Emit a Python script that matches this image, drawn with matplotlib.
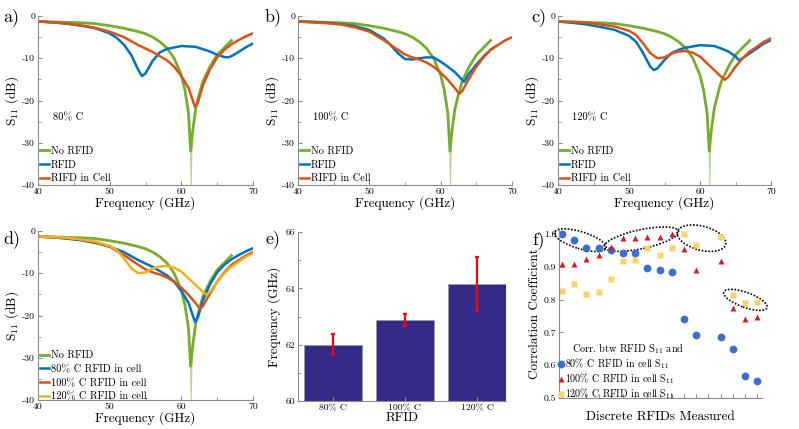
import matplotlib
matplotlib.use('Agg')
import matplotlib.pyplot as plt
from matplotlib.patches import Ellipse
from matplotlib.transforms import ScaledTranslation
from matplotlib.ticker import MultipleLocator
import numpy as np

plt.rcParams['font.family'] = 'cmr10'
plt.rcParams['mathtext.fontset'] = 'cm'
plt.rcParams['axes.unicode_minus'] = False

# --- S11 curves (GHz, dB) ---
freq_none = [40, 42, 44, 46, 48, 50, 52, 54, 55, 56, 57, 58, 59, 60, 60.5, 61.0, 61.3,
             61.6, 62, 62.5, 63, 64, 65, 66, 67]
s11_none = [-1.3, -1.4, -1.5, -1.6, -1.8, -2.3, -2.9, -3.7, -4.2, -5.0, -6.1, -7.6, -10.0,
            -14.0, -17.5, -23.0, -32.0, -27.0, -22.0, -18.5, -15.5, -12.0, -9.2, -7.5, -5.8]
spike_freq = [61.25, 61.38, 61.5]
spike_s11 = [-30, -40, -30]

freq_rfid80 = [40, 42, 44, 46, 48, 50, 51, 52, 53, 54, 54.5, 55, 56, 57, 58, 60, 62, 64,
               65, 66, 66.5, 67, 68, 69, 70]
s11_rfid80 = [-1.3, -1.5, -1.8, -2.3, -2.9, -4.1, -5.2, -6.8, -9.2, -12.8, -14.2, -13.6,
              -10.6, -8.6, -7.8, -7.1, -7.3, -8.4, -9.2, -9.7, -9.8, -9.5, -8.5, -7.4, -6.5]

freq_cell80 = [40, 42, 44, 46, 48, 50, 52, 54, 55, 56, 57, 58, 59, 60, 61, 61.5, 61.9,
               62.3, 63, 64, 65, 66, 67, 68, 69, 70]
s11_cell80 = [-1.3, -1.5, -1.8, -2.2, -2.8, -3.7, -5.0, -6.9, -7.7, -8.5, -9.5, -10.5,
              -12.0, -14.2, -17.0, -19.5, -21.5, -20.5, -16.5, -12.6, -9.8, -8.0, -6.7,
              -5.7, -4.8, -4.1]

freq_rfid100 = [40, 42, 44, 46, 48, 50, 52, 53, 54, 55, 56, 57, 58, 59, 60, 61, 62, 63,
                63.3, 64, 65, 66, 67, 67.6]
s11_rfid100 = [-1.3, -1.4, -1.6, -1.9, -2.4, -3.3, -5.3, -6.9, -8.8, -10.2, -10.3, -10.0,
               -9.8, -9.8, -10.8, -12.0, -13.3, -15.1, -15.6, -13.6, -11.5, -9.6, -8.0, -7.3]

freq_cell100 = [40, 42, 44, 46, 48, 50, 52, 54, 55, 56, 57, 58, 59, 60, 61, 62, 62.6, 63,
                64, 65, 66, 67, 68, 69, 70]
s11_cell100 = [-1.3, -1.5, -1.7, -2.0, -2.7, -3.7, -5.7, -8.0, -9.1, -9.8, -10.3, -11.0,
               -12.0, -13.4, -15.1, -17.1, -18.4, -17.8, -14.8, -12.0, -9.8, -8.0, -6.9,
               -5.8, -5.0]

freq_rfid120 = [40, 42, 44, 46, 48, 50, 51, 52, 53, 53.5, 54, 55, 56, 57, 58, 60, 62, 63,
                64, 65, 65.5, 66, 67, 68, 69, 70]
s11_rfid120 = [-1.3, -1.6, -2.0, -2.6, -3.3, -4.7, -6.1, -8.8, -12.0, -12.8, -12.4, -10.4,
               -8.8, -8.0, -7.5, -6.9, -7.1, -7.7, -8.4, -9.6, -10.5, -10.0, -8.8, -7.7,
               -6.5, -5.7]

freq_cell120 = [40, 42, 44, 46, 48, 50, 51, 52, 53, 54, 55, 56, 57, 58, 59, 60, 61, 62,
                63, 63.5, 64, 65, 66, 67, 68, 69, 70]
s11_cell120 = [-1.3, -1.4, -1.6, -2.0, -2.5, -3.5, -4.5, -6.5, -8.8, -10.0, -9.8, -8.9,
               -8.4, -8.3, -8.7, -9.6, -11.2, -12.8, -14.4, -15.1, -14.4, -12.0, -10.0,
               -8.4, -7.3, -6.1, -5.3]

# --- panel e: resonant frequency ---
bar_labels = ['80% C', '100% C', '120% C']
bar_freq = [62.0, 62.88, 64.15]
err_lo = [61.62, 62.68, 63.18]
err_hi = [62.38, 63.10, 65.12]

# --- panel f: correlation coefficients ---
rfid_idx = [1, 2, 3, 4, 5, 6, 7, 8, 9, 10, 11, 12, 14, 15, 16, 17]
corr_80 = [1.0, 0.983, 0.956, 0.956, 0.950, 0.943, 0.943, 0.895, 0.890, 0.883,
           0.741, 0.692, 0.687, 0.650, 0.566, 0.551]
corr_100 = [0.909, 0.907, 0.924, 0.935, 0.961, 0.987, 0.987, 0.992, 0.992, 1.0,
            0.953, 0.890, 0.918, 0.774, 0.742, 0.747]
corr_120 = [0.825, 0.848, 0.817, 0.822, 0.864, 0.916, 0.920, 0.958, 0.935, 0.956,
            1.0, 0.965, 0.992, 0.815, 0.791, 0.792]

GREEN, BLUE, ORANGE, YELLOW = '#77AC30', '#0072BD', '#D95319', '#EDB120'
SPINE = '#8c8c8c'

W, H = 799, 429
fig = plt.figure(figsize=(W / 100, H / 100), dpi=100)


def box(l, t, r, b):
    return [l / W, 1 - b / H, (r - l) / W, (b - t) / H]


def style(ax):
    for s in ['top', 'right']:
        ax.spines[s].set_visible(False)
    for s in ['left', 'bottom']:
        ax.spines[s].set_color(SPINE)
        ax.spines[s].set_linewidth(0.8)
    ax.tick_params(which='both', direction='in', color=SPINE, labelsize=7, pad=2)
    ax.tick_params(which='major', length=3)
    ax.tick_params(which='minor', length=2)


def s11_axes(rect):
    ax = fig.add_axes(rect)
    style(ax)
    ax.set_xlim(40, 70)
    ax.set_ylim(-40, 0)
    ax.set_xticks([40, 50, 60, 70])
    ax.set_yticks([0, -10, -20, -30, -40])
    ax.xaxis.set_minor_locator(MultipleLocator(5))
    ax.yaxis.set_minor_locator(MultipleLocator(5))
    ax.set_xlabel('Frequency (GHz)', fontsize=9.5, labelpad=0)
    ax.set_ylabel('S$_{11}$ (dB)', fontsize=9.5, labelpad=1)
    return ax


def leg(ax, header=None, dy=0.0):
    if header:
        ax.text(0.068, 0.40, header, transform=ax.transAxes, fontsize=7.5,
                ha='left', va='center')
    ax.legend(loc='lower left', bbox_to_anchor=(0.0, dy), frameon=False,
              fontsize=7.5, handlelength=0.9, handletextpad=0.2,
              labelspacing=0.42, borderaxespad=0.05, borderpad=0.1)


tops = [
    (box(38, 16, 253, 185), '80% C', freq_rfid80, s11_rfid80, freq_cell80, s11_cell80),
    (box(298, 16, 512, 185), '100% C', freq_rfid100, s11_rfid100, freq_cell100, s11_cell100),
    (box(558, 16, 771, 185), '120% C', freq_rfid120, s11_rfid120, freq_cell120, s11_cell120),
]
for rect, head, fr, sr, fc, sc in tops:
    ax = s11_axes(rect)
    ax.plot(spike_freq, spike_s11, color=GREEN, lw=0.8, alpha=0.5)
    ax.plot(freq_none, s11_none, color=GREEN, lw=2.0, label='No RFID')
    ax.plot(fr, sr, color=BLUE, lw=1.8, label='RFID')
    ax.plot(fc, sc, color=ORANGE, lw=1.8, label='RIFD in Cell')
    leg(ax, head)

# d) all concentrations in cell
ax = s11_axes(box(38, 231, 253, 400))
ax.plot(spike_freq, spike_s11, color=GREEN, lw=0.8, alpha=0.5)
ax.plot(freq_none, s11_none, color=GREEN, lw=2.0, label='No RFID')
ax.plot(freq_cell80, s11_cell80, color=BLUE, lw=1.8, label='80% C RFID in cell')
ax.plot(freq_cell100, s11_cell100, color=ORANGE, lw=1.8, label='100% C RFID in cell')
ax.plot(freq_cell120, s11_cell120, color=YELLOW, lw=1.8, label='120% C RFID in cell')
leg(ax, dy=-0.02)

# e) bar chart
ax = fig.add_axes(box(298, 232, 506, 401))
style(ax)
x = np.arange(1, len(bar_freq) + 1)
yerr = [np.subtract(bar_freq, err_lo), np.subtract(err_hi, bar_freq)]
ax.bar(x, np.subtract(bar_freq, 60), bottom=60, width=0.8, color='#352A87',
       edgecolor='#9a9a9a', linewidth=0.6)
ax.errorbar(x, bar_freq, yerr=yerr, fmt='none', ecolor='#ff0000', elinewidth=1.6,
            capsize=1.5, capthick=1.6)
ax.set_xlim(0.52, 3.4)
ax.set_ylim(60, 66)
ax.set_xticks(x)
ax.set_xticklabels(bar_labels)
ax.set_yticks([60, 62, 64, 66])
ax.yaxis.set_minor_locator(MultipleLocator(1))
ax.set_xlabel('RFID', fontsize=9.5, labelpad=0)
ax.set_ylabel('Frequency (GHz)', fontsize=9.5, labelpad=3)

# f) correlation scatter
ax = fig.add_axes(box(559, 229, 762, 398))
style(ax)
ax.plot(rfid_idx, corr_80, 'o', color='#3C6FCB', ms=5.6, mec='none',
        label='80% C RFID in cell S$_{11}$')
ax.plot(rfid_idx, corr_100, '^', color='#D0202A', ms=4.6, mec='none',
        label='100% C RFID in cell S$_{11}$')
ax.plot(rfid_idx, corr_120, 's', color='#FAD36B', ms=4.4, mec='none',
        label='120% C RFID in cell S$_{11}$')
ax.set_xlim(0.75, 17.4)
ax.set_ylim(0.5, 1.015)
ax.set_xticks(range(1, 18))
ax.set_xticklabels([])
ax.set_yticks([0.5, 0.6, 0.7, 0.8, 0.9, 1.0])
ax.yaxis.set_major_formatter(matplotlib.ticker.FormatStrFormatter('%.1f'))
ax.set_xlabel('Discrete RFIDs Measured', fontsize=9.5, labelpad=7)
ax.set_ylabel('Correlation Coefficient', fontsize=9.5, labelpad=2)
ax.text(0.064, 0.29, 'Corr. btw RFID S$_{11}$ and', transform=ax.transAxes,
        fontsize=7.4, ha='left', va='center')
ax.legend(loc='lower left', bbox_to_anchor=(-0.01, -0.025), frameon=False, fontsize=7.2,
          handlelength=0.6, handletextpad=0.1, labelspacing=0.0,
          borderaxespad=0.05, borderpad=0.1)

# dotted ellipses (center in data, size in pixels)
ellipses = [((2.49, 0.981), 54, 17, -17), ((7.5, 0.984), 76, 19, 12),
            ((12.44, 0.987), 50, 24, -15), ((16.04, 0.799), 46, 15, -20)]
for (cx, cy), w, h, ang in ellipses:
    tr = fig.dpi_scale_trans + ScaledTranslation(cx, cy, ax.transData)
    ax.add_patch(Ellipse((0, 0), w / 100, h / 100, angle=ang, transform=tr,
                         fill=False, ls=(0, (1, 1)), lw=1.2, color='k', clip_on=False))

labels = [('a)', 3, 17), ('b)', 265, 17), ('c)', 531, 17),
          ('d)', 3, 239), ('e)', 265, 239), ('f)', 532, 240)]
for t, px, py in labels:
    fig.text(px / W, 1 - py / H, t, fontsize=13, ha='left', va='center')

fig.savefig('out.png', dpi=100)
